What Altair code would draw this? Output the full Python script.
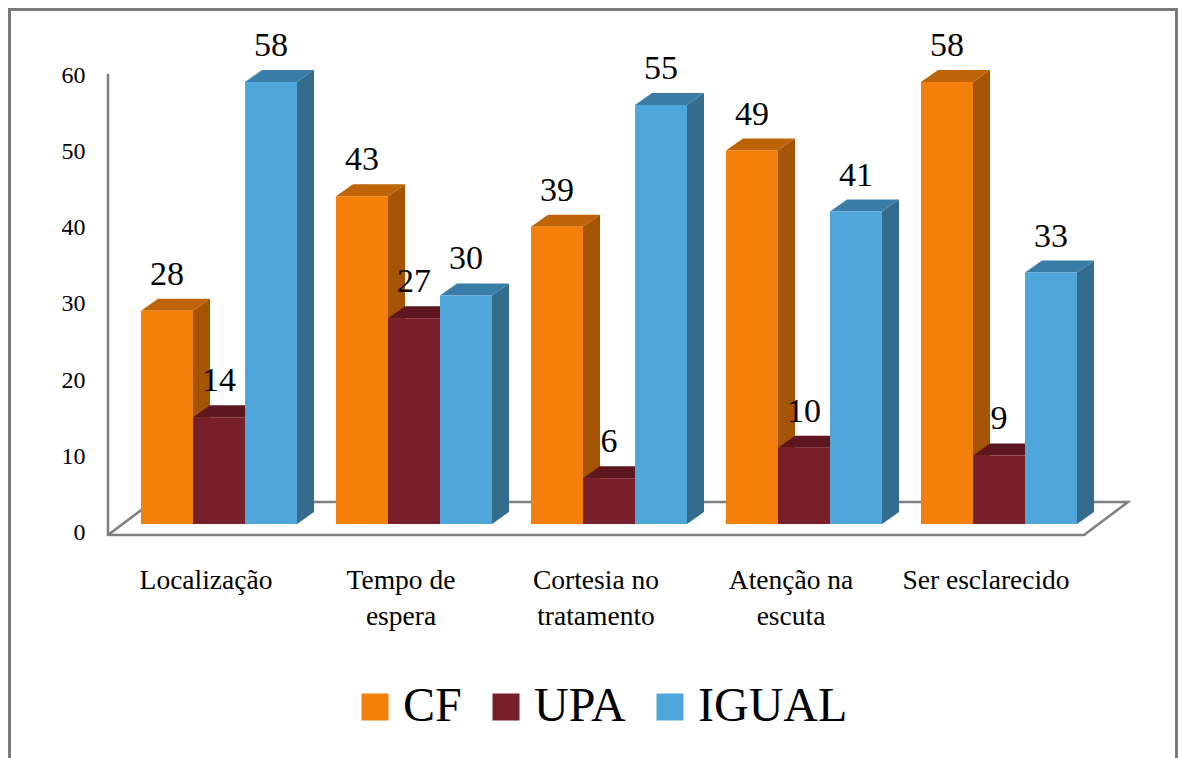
import altair as alt
import pandas as pd

categories = ["Localização", "Tempo de\nespera", "Cortesia no\ntratamento", "Atenção na\nescuta", "Ser esclarecido"]
series = ["CF", "UPA", "IGUAL"]
cf = [28, 43, 39, 49, 58]
upa = [14, 27, 6, 10, 9]
igual = [58, 30, 55, 41, 33]
values = {"CF": cf, "UPA": upa, "IGUAL": igual}
front = {"CF": "#F47F0A", "UPA": "#771F2A", "IGUAL": "#4FA6DB"}
side = {"CF": "#A55403", "UPA": "#4F141C", "IGUAL": "#336C8D"}
top = {"CF": "#BE6407", "UPA": "#5E1720", "IGUAL": "#3A7DA7"}
ticks = [0, 10, 20, 30, 40, 50, 60]

FONT = "Liberation Serif"
W, H = 1170, 750
PX_G = 195.0      # pixels per category step
PX_V = 7.62       # pixels per value unit
BAR = 52 / PX_G   # bar width in category units
DX = 17 / PX_G    # bar depth
DV = 12 / PX_V
X0 = 133 / PX_G   # left of plot in category units
V0 = 516 / PX_V   # top of plot in value units
AXIS_SHIFT = -7 / PX_V
x_scale = alt.Scale(domain=[-X0, (W - 133) / PX_G], nice=False, zero=False)
y_scale = alt.Scale(domain=[V0 - H / PX_V, V0], nice=False, zero=False)
y_axis = alt.Axis(
    values=[t + AXIS_SHIFT for t in ticks],
    labelExpr=f"round(datum.value + {-AXIS_SHIFT})",
    domain=False, ticks=False, grid=False, title=None, labelPadding=-77, labelOffset=1.5,
    labelFont=FONT, labelFontSize=24, labelColor="#000000", labelOverlap=False,
)

rows, side_rows, top_rows = [], [], []
for j, s in enumerate(series):
    for i, c in enumerate(categories):
        v = values[s][i]
        x1 = i + j * BAR
        x2 = x1 + BAR
        rows.append(dict(series=s, cat=c, x1=x1, x2=x2, xc=(x1 + x2) / 2, v=v, base=0))
        side_rows += [
            dict(series=s, g=i, x=x2, y=v, y2=0),
            dict(series=s, g=i, x=x2 + DX, y=v + DV, y2=DV),
        ]
        top_rows += [
            dict(series=s, g=i, y=v, x=x1, x2=x2),
            dict(series=s, g=i, y=v + DV, x=x1 + DX, x2=x2 + DX),
        ]
bars = pd.DataFrame(rows)
sides = pd.DataFrame(side_rows)
tops = pd.DataFrame(top_rows)

# floor outline and left wall
fl, fr = -33 / PX_G, 943 / PX_G
fb = -11 / PX_V
bx, bv = 44 / PX_G, 33 / PX_V
outline = pd.DataFrame({
    "o": range(6),
    "x": [fl, fl, fr, fr + bx, fl + bx, fl],
    "y": [60 + AXIS_SHIFT, fb, fb, fb + bv, fb + bv, fb],
})

outline_layer = alt.Chart(outline).mark_line(color="#7F7F7F", strokeWidth=2.5).encode(
    x=alt.X("x:Q", scale=x_scale, axis=None),
    y=alt.Y("y:Q", scale=y_scale, axis=y_axis),
    order="o:Q",
)

layers = [outline_layer]
for s in series:
    layers.append(
        alt.Chart(sides[sides.series == s]).mark_area(color=side[s], orient="vertical", opacity=1).encode(
            x=alt.X("x:Q", scale=x_scale, axis=None),
            y=alt.Y("y:Q", scale=y_scale, axis=y_axis, stack=None),
            y2="y2:Q", detail="g:N",
        )
    )
    layers.append(
        alt.Chart(tops[tops.series == s]).mark_area(color=top[s], orient="horizontal", opacity=1).encode(
            y=alt.Y("y:Q", scale=y_scale, axis=y_axis),
            x=alt.X("x:Q", scale=x_scale, axis=None, stack=None),
            x2="x2:Q", detail="g:N",
        )
    )
    layers.append(
        alt.Chart(bars[bars.series == s]).mark_rect().encode(
            x=alt.X("x1:Q", scale=x_scale, axis=None),
            x2="x2:Q",
            y=alt.Y("v:Q", scale=y_scale, axis=y_axis),
            y2="base:Q",
            color=alt.Color("series:N",
                scale=alt.Scale(domain=series, range=[front[k] for k in series]),
                legend=alt.Legend(
                    orient="none", legendX=343, legendY=675, direction="horizontal", columns=3,
                    title=None, symbolType="square", symbolSize=729, symbolStrokeWidth=0,
                    labelFont=FONT, labelFontSize=48, labelColor="#000000", labelOffset=4,
                    columnPadding=20, symbolOpacity=1,
                )),
        )
    )

value_labels = alt.Chart(bars).mark_text(
    font=FONT, fontSize=34, color="#000000", baseline="alphabetic", dy=-26
).encode(
    x=alt.X("xc:Q", scale=x_scale, axis=None),
    y=alt.Y("v:Q", scale=y_scale, axis=y_axis),
    text="v:Q",
)
layers.append(value_labels)

cat_table = pd.DataFrame({"cat": categories, "g": [i + 65 / PX_G for i in range(len(categories))], "y": [-57 / PX_V] * len(categories)})
cat_labels = alt.Chart(cat_table).mark_text(
    font=FONT, fontSize=27.5, color="#000000", lineBreak="\n", lineHeight=36, baseline="middle"
).encode(
    x=alt.X("g:Q", scale=x_scale, axis=None),
    y=alt.Y("y:Q", scale=y_scale, axis=y_axis),
    text="cat:N",
)
layers.append(cat_labels)

frame_color = "#7A7A7A"
frame_left = alt.Chart(outline).mark_rule(color=frame_color, strokeWidth=3).encode(
    x=alt.value(1), y=alt.value(0), y2=alt.value(H))
frame_right = alt.Chart(outline).mark_rule(color=frame_color, strokeWidth=3).encode(
    x=alt.value(W - 1), y=alt.value(0), y2=alt.value(H))
frame_top = alt.Chart(outline).mark_rule(color=frame_color, strokeWidth=3).encode(
    y=alt.value(1), x=alt.value(0), x2=alt.value(W))
layers += [frame_left, frame_right, frame_top]

chart = alt.layer(*layers).properties(
    width=W, height=H, padding=0, background="#FFFFFF",
    autosize=alt.AutoSizeParams(type="none"),
).configure_view(stroke=None)

chart.save("out.html", embed_options={"renderer": "svg", "actions": False})
